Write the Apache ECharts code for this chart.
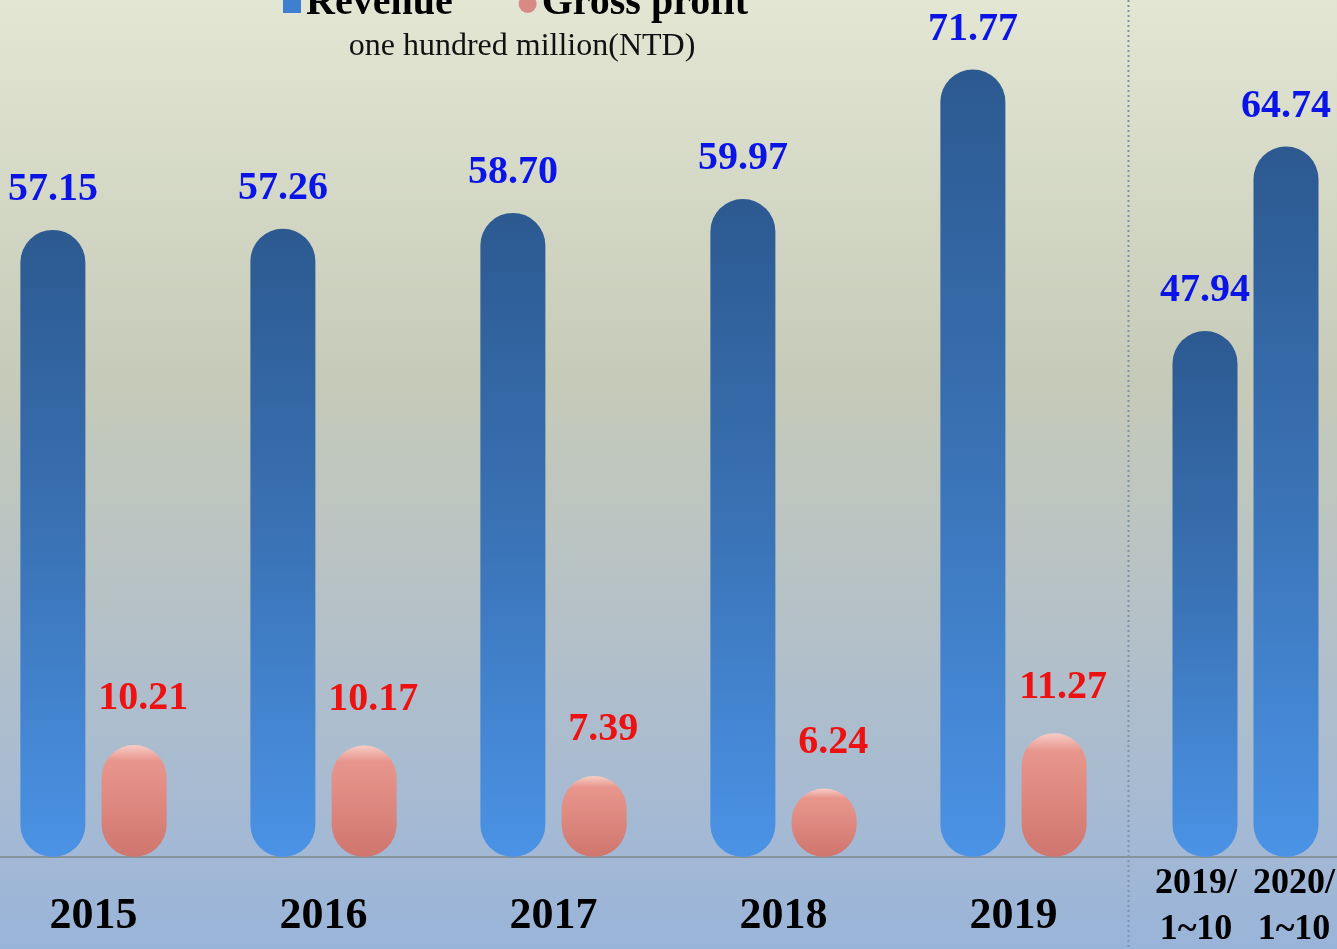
<!DOCTYPE html>
<html>
<head>
<meta charset="utf-8">
<style>
html,body{margin:0;padding:0;width:1337px;height:949px;overflow:hidden;}
#chart{width:1337px;height:949px;}
</style>
<script src="https://cdn.jsdelivr.net/npm/echarts@6/dist/echarts.min.js"></script>
</head>
<body>
<div id="chart"></div>
<script>
// ---- data ----
const categories = ['2015', '2016', '2017', '2018', '2019'];
const revenue = [57.15, 57.26, 58.70, 59.97, 71.77];
const grossProfit = [10.21, 10.17, 7.39, 6.24, 11.27];
const ytdCategories = ['2019/\n1~10', '2020/\n1~10'];
const ytdRevenue = [47.94, 64.74];
const unitText = 'one hundred million(NTD)';

// ---- layout ----
const W = 1337, H = 949;
const plotBottom = 92;            // distance from bottom to axis line
const axisY = H - plotBottom;
const leftGrid = { left: -21.5, width: 1150 };
const rightGrid = { left: 1164.5, width: 162 };
const sepX = leftGrid.left + leftGrid.width;
const yMax = 78.1;

const serif = '"Liberation Serif","Times New Roman",serif';

const blueFill = new echarts.graphic.LinearGradient(0, 0, 0, 1, [
  { offset: 0, color: '#2c5990' },
  { offset: 0.5, color: '#3a73b6' },
  { offset: 1, color: '#4b93e6' }
]);
const redFill = new echarts.graphic.LinearGradient(0, 0, 0, 1, [
  { offset: 0, color: '#f7cdc6' },
  { offset: 0.14, color: '#e8968d' },
  { offset: 1, color: '#cf766e' }
]);

const fmt = p => Number(p.value).toFixed(2);
const ytdLabelStyle = { fontFamily: serif, fontWeight: 'bold', fontSize: 36, lineHeight: 46, color: '#000' };

const chart = echarts.init(document.getElementById('chart'));
chart.setOption({
  animation: false,
  backgroundColor: new echarts.graphic.LinearGradient(0, 0, 0, 1, [
    { offset: 0, color: '#e2e6d3' },
    { offset: 0.40, color: '#c6cab8' },
    { offset: 0.70, color: '#b1bfca' },
    { offset: 0.90, color: '#a2b8d5' },
    { offset: 1, color: '#99b4d9' }
  ]),
  title: {
    text: unitText,
    left: 517,
    textAlign: 'center',
    top: 26,
    textStyle: { fontFamily: serif, fontWeight: 'normal', fontSize: 32, color: '#111' }
  },
  legend: {
    top: -21,
    left: 278,
    itemGap: 66,
    itemWidth: 18,
    itemHeight: 18,
    data: [
      { name: 'Revenue', icon: 'rect', itemStyle: { color: '#3f7fcf' } },
      { name: 'Gross profit', icon: 'circle', itemStyle: { color: '#d98a84' } }
    ],
    textStyle: { fontFamily: serif, fontWeight: 'bold', fontSize: 40, color: '#000' }
  },
  grid: [
    { left: leftGrid.left, width: leftGrid.width, top: 0, bottom: plotBottom, outerBoundsMode: 'none', containLabel: false },
    { left: rightGrid.left, width: rightGrid.width, top: 0, bottom: plotBottom, outerBoundsMode: 'none', containLabel: false }
  ],
  xAxis: [
    {
      type: 'category', gridIndex: 0, data: categories,
      axisLine: { show: false }, axisTick: { show: false },
      axisLabel: { interval: 0, hideOverlap: false, margin: 38, fontFamily: serif, fontWeight: 'bold', fontSize: 44, color: '#000' }
    },
    {
      type: 'category', gridIndex: 1, data: ytdCategories,
      axisLine: { show: false }, axisTick: { show: false },
      axisLabel: {
        interval: 0, hideOverlap: false, margin: 4,
        formatter: (v, i) => v.split('\n').map(s => '{' + (i === 0 ? 'a' : 'b') + '|' + s + '}').join('\n'),
        rich: {
          a: Object.assign({ padding: [0, 18, 0, 0] }, ytdLabelStyle),
          b: Object.assign({ padding: [0, 0, 0, 16] }, ytdLabelStyle)
        }
      }
    }
  ],
  yAxis: [
    { type: 'value', gridIndex: 0, min: 0, max: yMax, show: false },
    { type: 'value', gridIndex: 1, min: 0, max: yMax, show: false }
  ],
  graphic: [
    {
      type: 'line', z: 0,
      shape: { x1: 0, y1: axisY, x2: W, y2: axisY },
      style: { stroke: '#87939c', lineWidth: 2 }
    },
    {
      type: 'line', z: 0,
      shape: { x1: sepX, y1: 0, x2: sepX, y2: H },
      style: { stroke: '#7e92aa', lineWidth: 2, lineDash: [2, 3] }
    }
  ],
  series: [
    {
      name: 'Revenue', type: 'bar', xAxisIndex: 0, yAxisIndex: 0,
      data: revenue, barWidth: 65, barGap: '25%',
      itemStyle: { color: blueFill, borderRadius: 32.5 },
      label: {
        show: true, position: 'top', distance: 20, formatter: fmt,
        fontFamily: serif, fontWeight: 'bold', fontSize: 40, color: '#0a14e6'
      }
    },
    {
      name: 'Gross profit', type: 'bar', xAxisIndex: 0, yAxisIndex: 0,
      data: grossProfit, barWidth: 65, barGap: '25%',
      itemStyle: { color: redFill, borderRadius: 32.5 },
      label: {
        show: true, position: 'top', distance: 26, offset: [9, 0], formatter: fmt,
        fontFamily: serif, fontWeight: 'bold', fontSize: 40, color: '#ee1111'
      }
    },
    {
      name: 'Revenue', type: 'bar', xAxisIndex: 1, yAxisIndex: 1,
      data: ytdRevenue, barWidth: 65,
      itemStyle: { color: blueFill, borderRadius: 32.5 },
      label: {
        show: true, position: 'top', distance: 20, formatter: fmt,
        fontFamily: serif, fontWeight: 'bold', fontSize: 40, color: '#0a14e6'
      }
    }
  ]
});
</script>
</body>
</html>
